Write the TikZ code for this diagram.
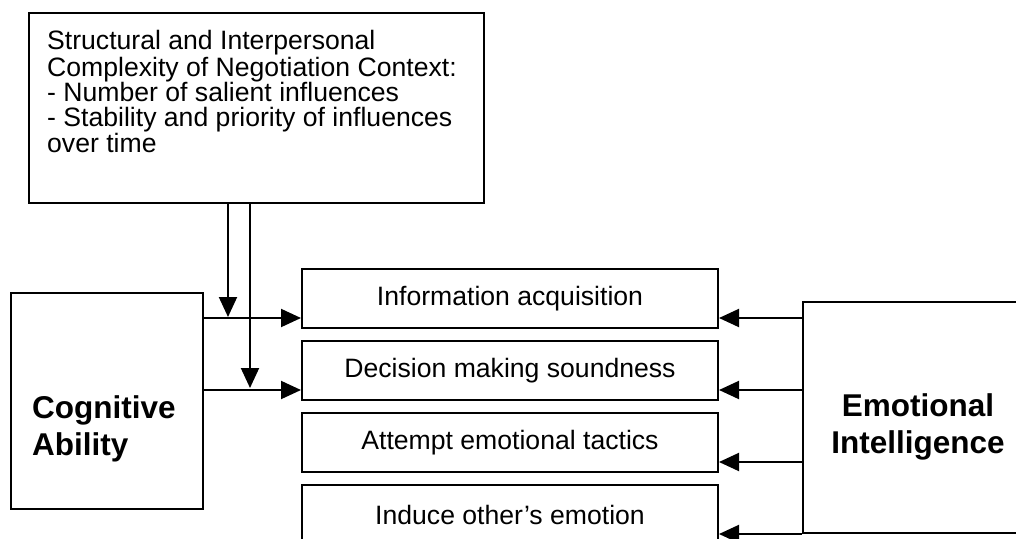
\documentclass[tikz,border=0pt]{standalone}
\usepackage{fontspec}
\setmainfont{Liberation Sans}
\usetikzlibrary{shapes,arrows.meta}

\begin{document}
\begin{tikzpicture}
[
x=1pt, y=-1pt,
box/.style={draw, line width=2pt, inner sep=0pt},
itembox/.style={box, minimum width=416pt, minimum height=59pt, font=\fontsize{26.6}{30}\selectfont},
bigtext/.style={inner sep=0pt, font=\fontsize{31.5}{37}\selectfont\bfseries},
every edge/.style={draw, line width=2pt, -{Triangle[length=20pt,width=18pt]}}
]
\path[use as bounding box, clip] (0,0) rectangle (1016,538);

\node[box, minimum width=455pt, minimum height=190pt] (context) at (256.5,108) {};
\node[anchor=north west, inner sep=0pt, align=left, font=\fontsize{26.6}{24.7}\selectfont] (contexttext) at (47,30)
  {Structural and Interpersonal\\[0.8pt]Complexity of Negotiation Context:\\- Number of salient influences\\- Stability and priority of influences\\over time};

\node[itembox] (info) at (510,298.5) {Information acquisition};
\node[itembox] (decision) at (510,370.5) {Decision making soundness};
\node[itembox] (attempt) at (510,442.5) {Attempt emotional tactics};
\node[itembox] (induce) at (510,514.5) {Induce other’s emotion};

\node[box, minimum width=192pt, minimum height=216pt] (cognitive) at (107,401) {};
\node[bigtext, anchor=base west, align=left] (cognitivetext) at (32,455) {Cognitive\\Ability};

\node[box, minimum width=227pt, minimum height=231pt] (emotion) at (916.5,417.5) {};
\node[bigtext, anchor=base, align=center] (emotiontext) at (918,453) {Emotional\\Intelligence};

% arrow ends
\foreach \b in {info,decision,attempt,induce}
{
  \coordinate (\b-l) at ([yshift=11pt]\b.south west);
  \coordinate (\b-r) at ([yshift=11pt]\b.south east);
}
\coordinate (drop1) at (228,317);
\coordinate (drop2) at (250,388);

\path
(drop1 |- context.south)	edge	(drop1)
(drop2 |- context.south)	edge	(drop2)
(cognitive.east |- info-l)	edge	(info-l)
(cognitive.east |- decision-l)	edge	(decision-l);

\foreach \b in {info,decision,attempt,induce}
  \path (emotion.west |- \b-r) edge (\b-r);
\end{tikzpicture}
\end{document}
